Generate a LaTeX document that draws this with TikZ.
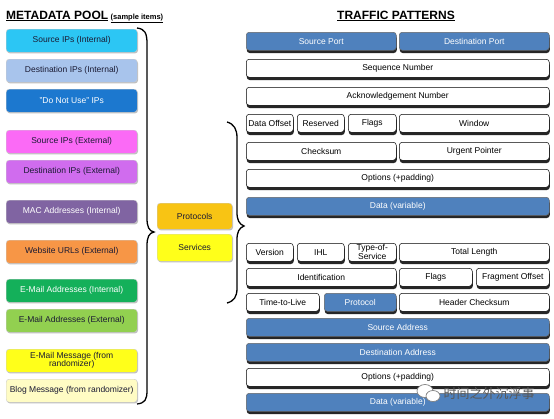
\documentclass[tikz,border=0pt]{standalone}
\usepackage{fontspec}
\setmainfont{Liberation Sans}
\newfontfamily\cjk{Noto Sans CJK SC}
\usetikzlibrary{shadows}
\definecolor{cCyan}{HTML}{2CC6F4}
\definecolor{cLtBlue}{HTML}{A8C4EC}
\definecolor{cDnu}{HTML}{1C78CF}
\definecolor{cMag}{HTML}{FB6AF6}
\definecolor{cPurp}{HTML}{D06CEE}
\definecolor{cMac}{HTML}{8064A2}
\definecolor{cOrange}{HTML}{F79646}
\definecolor{cGreen}{HTML}{14B05A}
\definecolor{cLtGreen}{HTML}{92D050}
\definecolor{cYellow}{HTML}{FFFF1A}
\definecolor{cBlog}{HTML}{FFFCC4}
\definecolor{cGold}{HTML}{F8C414}
\definecolor{cBlue}{HTML}{4F81BD}
\definecolor{cText}{HTML}{1A1A33}
\tikzset{
  lbox/.style={draw=black!20, line width=0.4pt, rounded corners=3pt, inner sep=1pt,
    anchor=north west, minimum width=131pt, minimum height=23pt,
    font=\fontsize{8.5}{8}\selectfont, align=center, text=cText,
    drop shadow={shadow xshift=0.8pt, shadow yshift=-1.2pt, fill=black!50, opacity=0.5}},
  rbox/.style={draw=black, line width=0.5pt, fill=white, rounded corners=3pt, inner sep=1pt,
    anchor=north west, minimum height=18pt, font=\fontsize{8.5}{7}\selectfont, align=center,
    drop shadow={shadow xshift=0.5pt, shadow yshift=-2.8pt, fill=black!85, opacity=1}},
  bluebox/.style={rbox, fill=cBlue, text=white, draw=black!60},
  brace/.style={draw=black, line width=1.3pt},
  title/.style={font=\bfseries\fontsize{12}{12}\selectfont, inner sep=0pt},
  wmark/.style={font=\cjk\fontsize{13}{13}\selectfont, inner sep=0pt}
}
\newcommand\lb[5]{\node[lbox, fill=#3, text=#4] (#1) at (6,#2) {#5};}
\newcommand\rb[6]{\node[#5, minimum width=#3] (#1) at (#2,#4) {#6};}
\begin{document}
\begin{tikzpicture}[x=1pt,y=-1pt]
\useasboundingbox[fill=white] (0,0) rectangle (554,418);
% titles
\node[title, anchor=base west] (t1) at (6,19) {\underline{METADATA POOL}};
\node[font=\bfseries\fontsize{7.5}{7.5}\selectfont, inner sep=0pt, anchor=base west] (t1s) at (t1.base east) {\ \underline{(sample items)}};
\node[title, anchor=base] (t2) at (396,19) {\underline{TRAFFIC PATTERNS}};
% left column
\lb{a1}{29}{cCyan}{cText}{Source IPs (Internal)}
\lb{a2}{59}{cLtBlue}{cText}{Destination IPs (Internal)}
\lb{a3}{89}{cDnu}{white}{"Do Not Use" IPs}
\lb{a4}{130}{cMag}{cText}{Source IPs (External)}
\lb{a5}{160}{cPurp}{cText}{Destination IPs (External)}
\lb{a6}{200}{cMac}{white}{MAC Addresses (Internal)}
\lb{a7}{240}{cOrange}{cText}{Website URLs (External)}
\lb{a8}{279}{cGreen}{white}{E-Mail Addresses (Internal)}
\lb{a9}{309}{cLtGreen}{cText}{E-Mail Addresses (External)}
\lb{a10}{349}{cYellow}{cText}{E-Mail Message (from\\randomizer)}
\lb{a11}{379}{cBlog}{cText}{Blog Message (from randomizer)}
% middle
\node[lbox, fill=cGold, minimum width=75pt, minimum height=26pt] (prot) at (157,203) {Protocols};
\node[lbox, fill=cYellow, minimum width=75pt, minimum height=27pt] (serv) at (157,234) {Services};
% braces
\draw[brace] (137,28) .. controls (145,29) and (147,33) .. (147,44) -- (147,218)
  .. controls (147,227) and (149,231) .. (154,232) .. controls (149,233) and (147,237) .. (147,246)
  -- (147,390) .. controls (147,400) and (145,403) .. (137,404);
\draw[brace] (227,122) .. controls (234,124) and (237,129) .. (237,138) -- (237,212)
  .. controls (237,220) and (239,224) .. (244,226) .. controls (239,228) and (237,232) .. (237,240)
  -- (237,288) .. controls (237,297) and (234,301) .. (227,303);
% TCP header
\rb{sp}{246}{150pt}{32}{bluebox}{Source Port}
\rb{dp}{399}{150pt}{32}{bluebox}{Destination Port}
\rb{seq}{246}{303pt}{59}{rbox}{Sequence Number}
\rb{ack}{246}{303pt}{87}{rbox}{Acknowledgement Number}
\rb{doff}{246}{47pt}{114}{rbox}{Data Offset}
\rb{res}{297}{47pt}{114}{rbox}{Reserved}
\rb{tflags}{348}{48pt}{114}{rbox}{Flags}
\rb{win}{399}{150pt}{114}{rbox}{Window}
\rb{chk}{246}{150pt}{142}{rbox}{Checksum}
\rb{urg}{399}{150pt}{142}{rbox}{Urgent Pointer}
\rb{topt}{246}{303pt}{169}{rbox}{Options (+padding)}
\rb{tdata}{246}{303pt}{197}{bluebox}{Data (variable)}
% IP header
\rb{ver}{246}{47pt}{243}{rbox}{Version}
\rb{ihl}{297}{47pt}{243}{rbox}{IHL}
\rb{tos}{348}{48pt}{243}{rbox}{Type-of-\\Service}
\rb{tlen}{399}{150pt}{243}{rbox}{Total Length}
\rb{ident}{246}{150pt}{268}{rbox}{Identification}
\rb{iflags}{399}{73pt}{268}{rbox}{Flags}
\rb{frag}{476}{73pt}{268}{rbox}{Fragment Offset}
\rb{ttl}{246}{73pt}{293}{rbox}{Time-to-Live}
\rb{proto}{324}{72pt}{293}{bluebox}{Protocol}
\rb{hchk}{399}{150pt}{293}{rbox}{Header Checksum}
\rb{src}{246}{303pt}{318}{bluebox}{Source Address}
\rb{dst}{246}{303pt}{343}{bluebox}{Destination Address}
\rb{iopt}{246}{303pt}{368}{rbox}{Options (+padding)}
\rb{idata}{246}{303pt}{393}{bluebox}{Data (variable)}
% watermark
\fill[white, draw=black!50, line width=0.7pt] (425,391) ellipse (8pt and 6.5pt);
\fill[white, draw=black!50, line width=0.7pt] (433,396) ellipse (7pt and 5.5pt);
\node[wmark, text=black!65] (wm) at (489,394) {时间之外沉浮事};
\end{tikzpicture}
\end{document}
